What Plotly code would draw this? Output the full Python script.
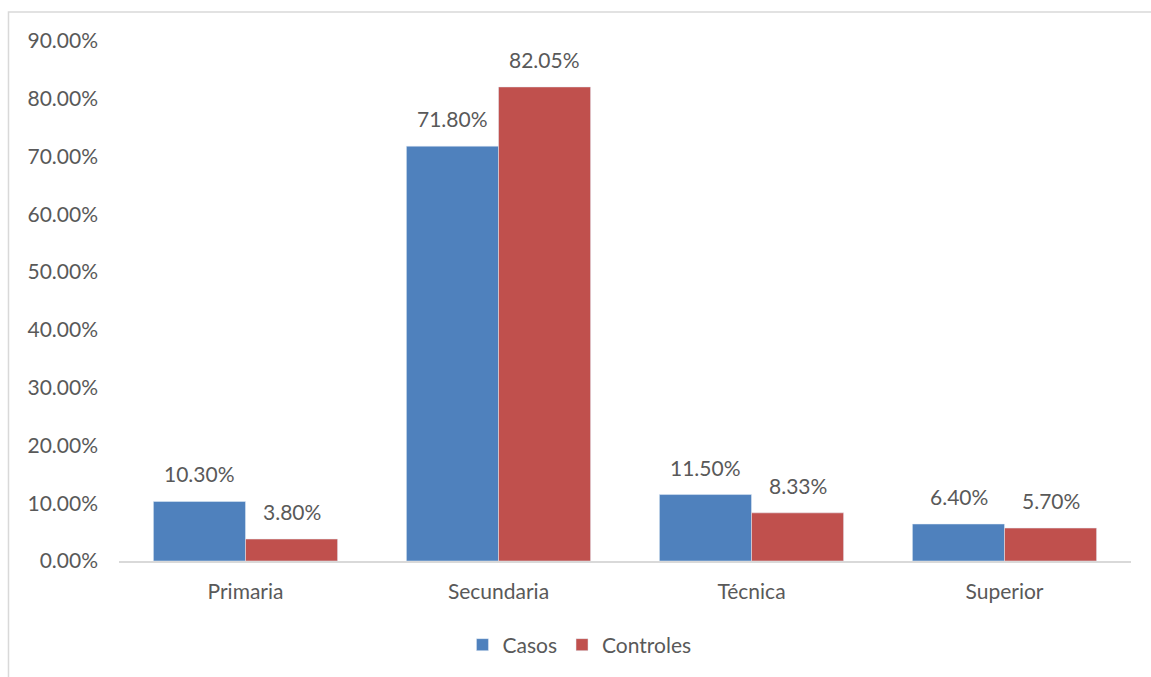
import plotly.graph_objects as go

categories = ["Primaria", "Secundaria", "Técnica", "Superior"]
casos = [10.30, 71.80, 11.50, 6.40]
controles = [3.80, 82.05, 8.33, 5.70]
y_ticks = [0, 10, 20, 30, 40, 50, 60, 70, 80, 90]

BLUE = "#4F81BD"
RED = "#C0504D"
TEXT = "#595959"
FONT = "Lato"
SIZE = 21

fig = go.Figure()
fig.add_trace(go.Bar(name="Casos", x=categories, y=casos, marker_color=BLUE))
fig.add_trace(go.Bar(name="Controles", x=categories, y=controles, marker_color=RED))

# value labels above each bar
annotations = []
for series, shift in ((casos, -46), (controles, 46)):
    for cat, val in zip(categories, series):
        annotations.append(dict(
            x=cat, y=val, xref="x", yref="y", text=f"{val:.2f}%",
            showarrow=False, xshift=shift, yshift=13, yanchor="bottom",
            font=dict(family=FONT, size=SIZE, color=TEXT),
        ))

fig.update_layout(
    width=1151, height=677,
    margin=dict(l=119, r=20, t=41, b=116),
    paper_bgcolor="white", plot_bgcolor="white",
    barmode="group", bargap=0.272, bargroupgap=0,
    font=dict(family=FONT, size=SIZE, color=TEXT),
    annotations=annotations,
    showlegend=True,
    legend=dict(orientation="h", x=0.455, xanchor="center", y=-0.1615,
                yanchor="middle", font=dict(family=FONT, size=SIZE, color=TEXT),
                itemwidth=30, tracegroupgap=0),
    shapes=[dict(type="rect", xref="paper", yref="paper",
                 x0=-0.1092, x1=1.03, y0=-0.25, y1=1.0558,
                 line=dict(color="#d9d9d9", width=1.5), layer="below")],
)
fig.update_xaxes(showgrid=False, showline=True, linecolor="#d9d9d9", linewidth=1.5,
                 ticks="", ticklabelstandoff=11, tickfont=dict(size=SIZE, color=TEXT))
fig.update_yaxes(range=[0, 90], tickvals=y_ticks,
                 ticktext=[f"{v:.2f}%" for v in y_ticks],
                 showgrid=False, zeroline=False, showline=False, ticks="",
                 ticklabelstandoff=20, tickfont=dict(size=SIZE, color=TEXT))

fig.write_html("out.html")
